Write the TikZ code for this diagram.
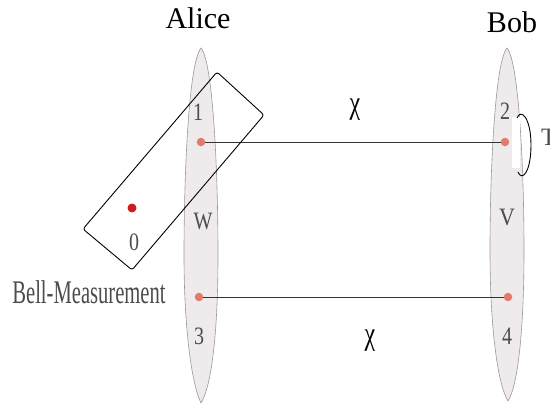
\documentclass[tikz,border=0pt]{standalone}
\usepackage{fontspec}
\setmainfont{Liberation Serif}
\begin{document}
\begin{tikzpicture}[x=1pt,y=-1pt,
  party/.style={fill=spindle,draw=gray!80,line width=0.6pt},
  qubit/.style={circle,fill=dotred,inner sep=0pt,minimum size=8.5pt},
  lbl/.style={text=black!70,font=\fontsize{25}{25}\selectfont,inner sep=0pt,xscale=0.8},
  title/.style={font=\fontsize{30}{30}\selectfont,inner sep=0pt},
  chilbl/.style={font=\fontsize{32}{32}\selectfont,inner sep=0pt,xscale=0.75},
  link/.style={line width=0.8pt,black!80}]
\definecolor{spindle}{HTML}{EFEAEC}
\definecolor{dotred}{HTML}{E27B6C}
\definecolor{darkred}{HTML}{CC1E1E}
\useasboundingbox (0,0) rectangle (550,410);
% spindles
\path[party] (201,48) .. controls (213,62) and (218,170) .. (218,255)
  .. controls (218,330) and (212,385) .. (201,403)
  .. controls (192,385) and (184,330) .. (184,255)
  .. controls (184,170) and (189,62) .. (201,48) -- cycle;
\path[party] (507,48) .. controls (519,62) and (524,170) .. (524,250)
  .. controls (524,330) and (518,385) .. (508,401)
  .. controls (498,385) and (490,330) .. (490,250)
  .. controls (490,170) and (495,62) .. (507,48) -- cycle;
% titles
\node[title] (alice) at (198,18) {Alice};
\node[title] (bob) at (512,22) {Bob};
% qubits
\node[qubit] (q1) at (201,142) {};
\node[qubit] (q3) at (199,297) {};
\node[qubit] (q2) at (505,142) {};
\node[qubit] (q4) at (508,297) {};
\node[qubit,fill=darkred,minimum size=9pt] (q0) at (132,208) {};
% labels
\node[lbl] (l1) at (198,112) {1};
\node[lbl] (l3) at (199,336) {3};
\node[lbl] (l2) at (505,111) {2};
\node[lbl] (l4) at (507,336) {4};
\node[lbl] (lw) at (203,222) {W};
\node[lbl,xscale=1.1] (lv) at (507,218) {V};
\node[lbl] (l0) at (134,242) {0};
% connectors
\draw[link] (q1) -- (q2);
\draw[link] (q3) -- (q4);
\node[chilbl] (chi1) at (355,110) {χ};
\node[chilbl] (chi2) at (370,341) {χ};
% bell measurement box
\draw[line width=0.9pt,rounded corners=2.5pt] (217,72) -- (264,115) -- (132,270) -- (83,229) -- cycle;
\node[lbl,font=\fontsize{33}{33}\selectfont,xscale=0.78] (bm) at (89,292) {Bell-Measurement};
% T operation
\fill[white] (512,117) rectangle (520,168);
\draw[line width=0.9pt] (517,118) .. controls (521,108) and (531,118) .. (531,145)
  .. controls (531,172) and (522,182) .. (518,172);
\node[lbl,anchor=west,xscale=1.25] (t) at (541,137) {T};
\end{tikzpicture}
\end{document}
